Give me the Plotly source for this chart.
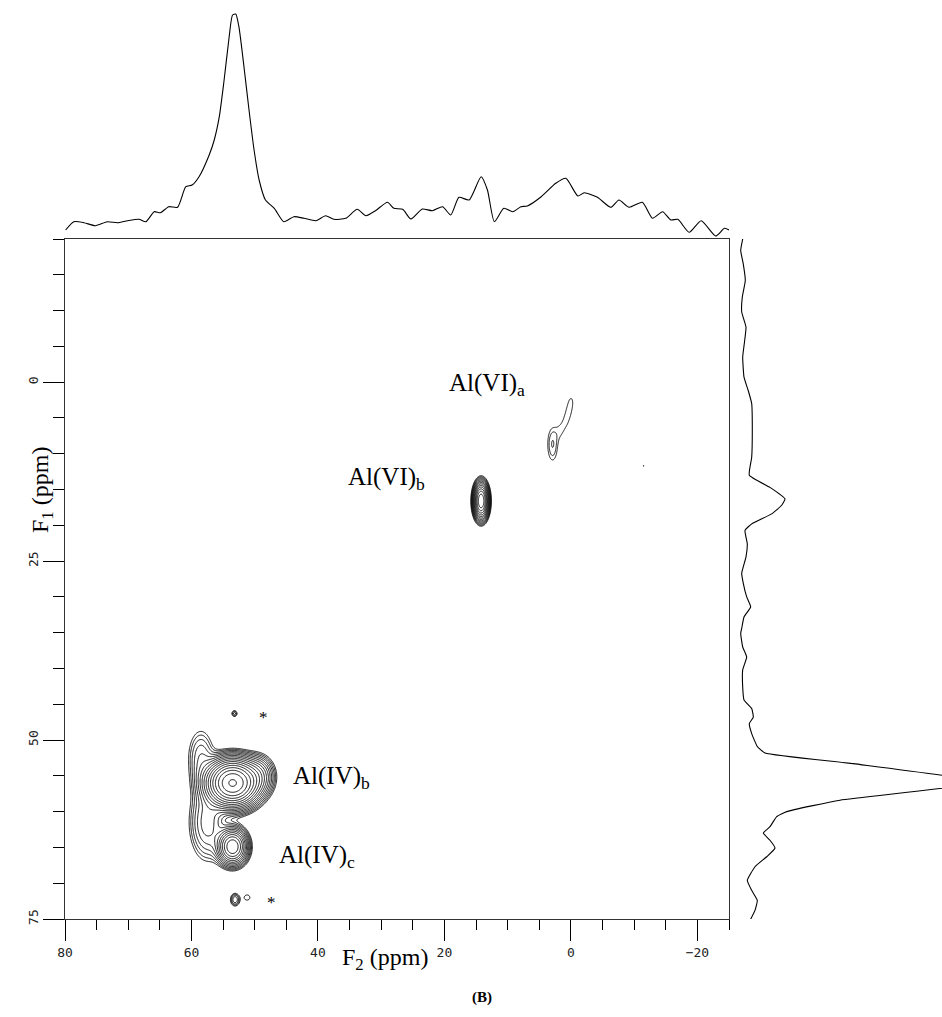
import numpy as np
import plotly.graph_objects as go

# ---------------- data ----------------
# F2 projection (top): chemical shift (ppm) and intensity (a.u.)
top_ppm = [79.9, 78.6, 77.0, 75.2, 73.3, 71.7, 70.1, 68.3, 67.2, 65.9, 64.9, 63.6, 62.2,
           60.9, 59.9, 58.8, 57.2, 56.4, 55.6, 54.9, 54.1, 53.5, 53.0, 52.5, 51.7, 50.9,
           50.1, 49.3, 48.3, 46.9, 45.4, 43.8, 42.2, 40.3, 38.8, 37.5, 35.6, 33.8, 32.4,
           30.9, 29.0, 28.0, 26.6, 25.3, 23.5, 21.9, 20.3, 19.0, 17.7, 16.1, 14.2, 13.2,
           12.1, 10.6, 9.2, 7.9, 6.9, 4.7, 2.4, 0.8, -1.1, -2.1, -4.2, -6.3, -7.6, -9.2,
           -11.3, -12.9, -14.5, -15.8, -16.9, -18.7, -20.6, -22.9, -24.3, -25.2]
top_int = [9, 17.3, 16.3, 13.3, 17.3, 16.3, 18.3, 19.7, 17.3, 27.3, 26.3, 32.3, 31.7,
           52.3, 54, 62.3, 84, 99, 122.3, 155.7, 199, 224, 225, 212.3, 172.3, 129,
           89, 59, 39, 30.7, 17.3, 22.3, 20.7, 18.3, 23.3, 19.7, 20.7, 29.7, 23.3,
           28.3, 36.7, 30.7, 29.7, 20, 30, 28.3, 32.3, 24, 41.7, 39, 62.3, 49,
           17.3, 30.7, 27.3, 32.3, 33, 42.3, 55.7, 60.7, 43, 46.3, 41.7, 31.7, 39, 31.7,
           36.7, 20.7, 27.3, 19, 19.7, 6.7, 18.3, 3, 10.7, 8.3]

# F1 projection (right): chemical shift (ppm) and intensity (a.u.)
right_ppm = [-20.0, -18.4, -16.5, -14.2, -11.9, -9.8, -7.7, -5.4, -3.5, -0.7, 1.2, 3.0,
             6.7, 10.5, 13.0, 14.7, 16.3, 17.2, 18.4, 19.8, 20.7, 22.6, 24.4, 26.7, 28.1,
             30.0, 31.4, 32.8, 34.4, 35.1, 37.0, 38.4, 40.2, 42.6, 44.4, 45.6, 46.8, 47.7,
             49.1, 50.9, 51.8, 53.3, 55.9, 58.4, 60.0, 60.7, 62.1, 63.0, 64.0, 65.1, 66.3,
             67.7, 69.6, 71.0, 72.4, 73.8, 75.2]
right_int = [13.7, 11.7, 14.3, 16.3, 13.3, 12.7, 17, 15.3, 13.7, 15, 19.3, 22.7,
             23.3, 22.7, 20.3, 41, 56, 52.7, 42.7, 22.7, 16, 18.3, 17, 12.7, 14.3,
             17.7, 21.7, 15, 12.7, 11.7, 13.7, 17.7, 13.7, 13.7, 15, 22.7, 24.3, 20.3,
             22.7, 28.3, 36, 124.3, 255, 111, 57.7, 47.7, 41, 34.3, 41, 46, 37.7,
             26, 18.3, 22.7, 28.3, 26, 21]

# 2D cross peaks: F2 centre, F1 centre, F2 width, F1 width, amplitude (a.u.)
peak_f2 = [53.5, 49.5, 53.5, 58.5, 57.5, 53.2, 53.1, 51.2, 14.2,
           -0.1, 0.3, 0.8, 1.6, 2.9, -11.5]
peak_f1 = [56.0, 55.0, 64.9, 52.5, 61.5, 46.3, 72.3, 72.0, 16.6,
           2.4, 4.0, 5.5, 6.8, 8.7, 11.7]
peak_w2 = [2.0, 1.4, 1.2, 1.3, 1.6, 0.35, 0.5, 0.6, 0.6,
           0.6, 0.6, 0.6, 0.6, 0.7, 0.1]
peak_w1 = [1.6, 1.5, 1.3, 2.5, 3.0, 0.35, 0.6, 0.5, 1.3,
           1.1, 1.1, 1.1, 1.1, 2.0, 0.12]
peak_amp = [100, 8, 30, 3, 5, 2.0, 3.0, 1.3, 40,
            0.8, 0.8, 0.8, 0.8, 1.8, 1.1]

labels = ["Al(VI)<sub>a</sub>", "Al(VI)<sub>b</sub>", "Al(IV)<sub>b</sub>", "Al(IV)<sub>c</sub>", "*", "*"]
label_f2 = [19.6, 35.6, 44.3, 46.4, 48.6, 47.3]
label_f1 = [0.3, 13.4, 55.2, 66.3, 46.8, 72.7]

X_RANGE = [80, -25]
Y_RANGE = [75, -20]

# ---------------- figure ----------------
W, H = 942, 1017
def px(x):
    return x / W
def py(y):
    return (H - y) / H

fig = go.Figure()

def field(f2, f1):
    G2, G1 = np.meshgrid(f2, f1)
    z = np.zeros_like(G2)
    for c2, c1, w2, w1, a in zip(peak_f2, peak_f1, peak_w2, peak_w1, peak_amp):
        z += a * np.exp(-((G2 - c2) ** 2) / (2 * w2 ** 2) - ((G1 - c1) ** 2) / (2 * w1 ** 2))
    return np.round(np.maximum(np.log(z + 1e-9), -3), 3)

ratio = np.log(1.33)
grids = [
    (np.arange(43, 63.01, 0.12), np.arange(43, 76.01, 0.12)),
    (np.arange(11, 17.51, 0.06), np.arange(10, 23.01, 0.08)),
    (np.arange(-3.0, 6.51, 0.06), np.arange(-2.0, 14.01, 0.08)),
    (np.arange(-12.2, -10.79, 0.02), np.arange(11.0, 12.41, 0.02)),
]
for f2, f1 in grids:
    fig.add_trace(go.Contour(
        x=np.round(f2, 3), y=np.round(f1, 3), z=field(f2, f1),
        contours=dict(start=0.0, end=4.7, size=ratio, coloring="lines"),
        colorscale=[[0, "black"], [1, "black"]], showscale=False,
        line=dict(width=0.9, smoothing=0.8), hoverinfo="skip",
        xaxis="x", yaxis="y"))

fig.add_trace(go.Scatter(x=top_ppm, y=top_int, mode="lines",
                         line=dict(color="black", width=1.1, shape="spline", smoothing=0.6),
                         xaxis="x2", yaxis="y2", hoverinfo="skip", showlegend=False))
fig.add_trace(go.Scatter(x=right_int, y=right_ppm, mode="lines",
                         line=dict(color="black", width=1.1, shape="spline", smoothing=0.4),
                         xaxis="x3", yaxis="y3", hoverinfo="skip", showlegend=False))

tickfont = dict(family="DejaVu Sans Mono", size=13, color="#222")
fig.update_layout(
    template="none",
    width=W, height=H, margin=dict(l=0, r=0, t=0, b=0, pad=0, autoexpand=False),
    paper_bgcolor="white", plot_bgcolor="white", showlegend=False,
    xaxis=dict(domain=[px(65), px(729)], range=X_RANGE, tick0=0, dtick=20,
               ticks="outside", ticklen=21, tickcolor="black", tickwidth=1,
               minor=dict(dtick=5, tick0=0, ticks="outside", ticklen=10, tickcolor="black"),
               showline=True, linecolor="#333", linewidth=1.2, mirror=True,
               showgrid=False, zeroline=False, tickfont=tickfont, anchor="y",
               automargin=False),
    yaxis=dict(domain=[py(919), py(239)], range=Y_RANGE, tick0=0, dtick=25,
               ticks="outside", ticklen=21, tickcolor="black", tickwidth=1,
               minor=dict(dtick=5, tick0=0, ticks="outside", ticklen=11, tickcolor="black"),
               showline=True, linecolor="#333", linewidth=1.2, mirror=True,
               showgrid=False, zeroline=False, tickfont=tickfont, tickangle=-90, anchor="x",
               automargin=False),
    xaxis2=dict(domain=[px(65), px(729)], range=X_RANGE, visible=False, anchor="y2",
                automargin=False),
    yaxis2=dict(domain=[py(239), 1.0], range=[0, 239], visible=False, anchor="x2",
                automargin=False),
    xaxis3=dict(domain=[px(729), 1.0], range=[0, 213], visible=False, anchor="y3",
                automargin=False),
    yaxis3=dict(domain=[py(919), py(239)], range=Y_RANGE, visible=False, anchor="x3",
                automargin=False),
)

serif = "Liberation Serif"
for t, a, b in zip(labels, label_f2, label_f1):
    big = t != "*"
    fig.add_annotation(x=a, y=b, xref="x", yref="y", text=t, showarrow=False,
                       xanchor="left" if big else "center", yanchor="middle",
                       font=dict(family=serif, size=25 if big else 17, color="black"))

fig.add_annotation(x=px(385), y=py(976), xref="paper", yref="paper",
                   text="F<sub>2</sub> (ppm)", showarrow=False,
                   font=dict(family=serif, size=24, color="black"))
fig.add_annotation(x=px(25), y=py(490), xref="paper", yref="paper",
                   text="F<sub>1</sub> (ppm)", showarrow=False, textangle=-90,
                   font=dict(family=serif, size=24, color="black"))
fig.add_annotation(x=px(482), y=py(1008), xref="paper", yref="paper",
                   text="<b>(B)</b>", showarrow=False,
                   font=dict(family=serif, size=15, color="black"))

fig.write_html("out.html")
